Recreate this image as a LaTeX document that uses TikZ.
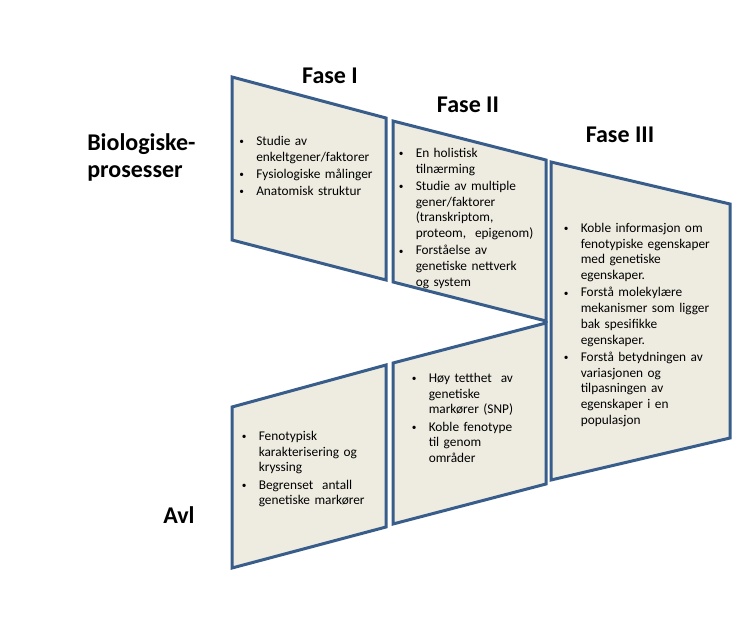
\documentclass[tikz,border=0pt]{standalone}
\usepackage{fontspec}
\setmainfont{Carlito}
\definecolor{kant}{HTML}{385D8A}
\definecolor{flate}{HTML}{EEECE1}
\newcommand{\punkt}{\par\hangindent=12.75pt\hangafter=1\noindent\makebox[12.75pt][l]{\raisebox{0.5pt}{\scalebox{0.7}{\textbullet}}}}
\begin{document}
\begin{tikzpicture}[x=0.75pt,y=-0.75pt,
    fase/.style={draw=kant,fill=flate,line width=2.25pt},
    tittel/.style={font=\fontsize{18}{20.8}\selectfont\bfseries},
    liste/.style={anchor=north west,inner sep=0pt,
      font=\fontsize{10}{11.8}\selectfont\raggedright\setlength{\parskip}{1.1pt}}]
  \useasboundingbox (0,0) rectangle (741,620);

  \draw[fase] (232,77) -- (386,118) -- (386,280) -- (232,240) -- cycle;
  \draw[fase] (393,121) -- (546,160) -- (546,321) -- (393,282) -- cycle;
  \draw[fase] (551,162) -- (730,204) -- (730,438) -- (551,480) -- cycle;
  \draw[fase] (393,363) -- (546,323) -- (546,484) -- (393,524) -- cycle;
  \draw[fase] (232,407) -- (386,365) -- (386,527) -- (232,568) -- cycle;

  \node[tittel] (fase1) at (330,76) {Fase I};
  \node[tittel] (fase2) at (468,105) {Fase II};
  \node[tittel] (fase3) at (620,135) {Fase III};
  \node[tittel,anchor=north west,inner sep=0pt,align=left] (bio) at (87,133) {Biologiske-\\prosesser};
  \node[tittel] (avl) at (179,515) {Avl};

  \node[liste,text width=140pt] (liste1) at (239,128) {%
    \punkt Studie av\newline enkeltgener/faktorer
    \punkt Fysiologiske målinger
    \punkt Anatomisk struktur\par};
  \node[liste,text width=140pt] (liste2) at (398.5,140) {%
    \punkt En holistisk\newline tilnærming
    \punkt Studie av multiple\newline gener/faktorer\newline (transkriptom,\newline proteom, \ epigenom)
    \punkt Forståelse av\newline genetiske nettverk\newline og system\par};
  \node[liste,text width=160pt] (liste3) at (563.5,215) {%
    \punkt Koble informasjon om\newline fenotypiske egenskaper\newline med genetiske\newline egenskaper.
    \punkt Forstå molekylære\newline mekanismer som ligger\newline bak spesifikke\newline egenskaper.
    \punkt Forstå betydningen av\newline variasjonen og\newline tilpasningen av\newline egenskaper i en\newline populasjon\par};
  \node[liste,text width=140pt] (liste4) at (411.5,365) {%
    \punkt Høy tetthet \ av\newline genetiske\newline markører (SNP)
    \punkt Koble fenotype\newline til genom\newline områder\par};
  \node[liste,text width=140pt] (liste5) at (241.5,423) {%
    \punkt Fenotypisk\newline karakterisering og\newline kryssing
    \punkt Begrenset \ antall\newline genetiske markører\par};
\end{tikzpicture}
\end{document}
